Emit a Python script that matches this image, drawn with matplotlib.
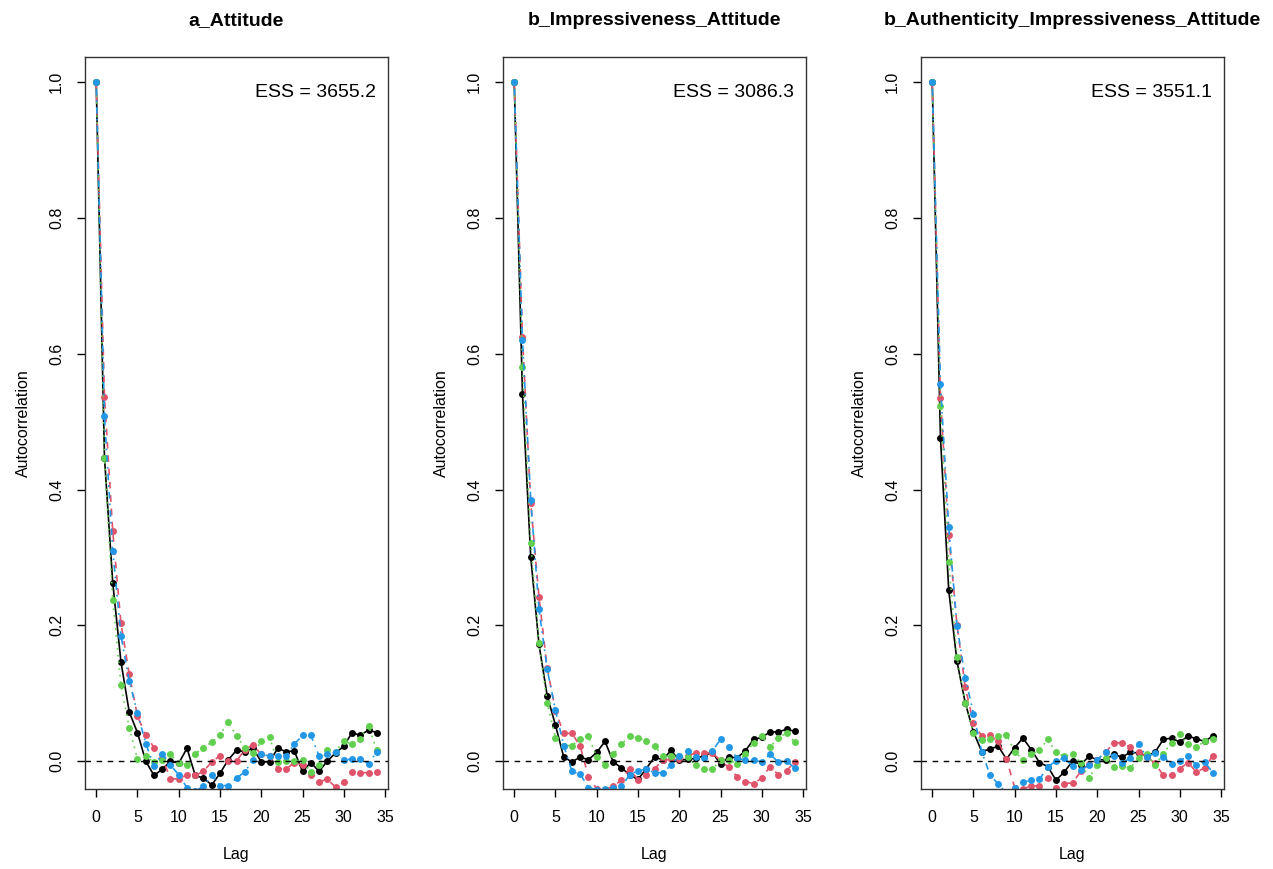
import numpy as np
import matplotlib
matplotlib.use("Agg")
import matplotlib.pyplot as plt

plt.rcParams["font.family"] = ["Liberation Sans", "DejaVu Sans"]

lags = np.arange(35)

titles = ["a_Attitude", "b_Impressiveness_Attitude", "b_Authenticity_Impressiveness_Attitude"]
ess = [3655.2, 3086.3, 3551.1]

# autocorrelation per chain
a_chain1 = [1.0, 0.447, 0.263, 0.146, 0.0725, 0.042, 0.0, -0.021, -0.012, 0.0, -0.003, 0.019,
            -0.021, -0.025, -0.035, -0.018, 0.002, 0.016, 0.014, 0.019, -0.001, -0.001, 0.019,
            0.014, 0.015, -0.015, -0.002, -0.015, 0.0, 0.012, 0.022, 0.042, 0.038, 0.046, 0.042]
a_chain2 = [1.0, 0.537, 0.339, 0.203, 0.128, 0.066, 0.039, 0.020, 0.005, -0.026, -0.026, -0.020,
            -0.021, -0.015, -0.001, 0.008, 0.0, 0.0, 0.017, 0.024, 0.010, 0.007, -0.011,
            -0.012, -0.002, -0.006, -0.021, -0.030, -0.027, -0.038, -0.031, -0.016, -0.017, -0.017, -0.016]
a_chain3 = [1.0, 0.447, 0.238, 0.112, 0.049, 0.003, 0.007, -0.001, 0.002, 0.010, -0.003, -0.005,
            0.011, 0.020, 0.028, 0.039, 0.058, 0.037, 0.020, 0.012, 0.029, 0.035, -0.001,
            0.0, 0.0, 0.001, -0.016, -0.005, 0.016, 0.014, 0.030, 0.025, 0.033, 0.052, 0.016]
a_chain4 = [1.0, 0.508, 0.310, 0.185, 0.118, 0.071, 0.026, -0.007, 0.011, -0.006, -0.020, -0.039,
            -0.044, -0.037, -0.021, -0.036, -0.036, -0.025, -0.016, 0.002, 0.011, 0.007, 0.007,
            0.007, 0.025, 0.038, 0.038, 0.008, 0.010, 0.013, 0.002, 0.003, 0.003, -0.004, 0.014]

bi_chain1 = [1.0, 0.541, 0.301, 0.172, 0.096, 0.053, 0.006, -0.001, 0.006, 0.002, 0.013, 0.029,
             -0.001, -0.010, -0.020, -0.027, -0.011, 0.006, 0.002, 0.016, 0.001, 0.003, 0.004,
             0.008, 0.013, -0.004, 0.006, 0.005, 0.015, 0.032, 0.035, 0.043, 0.043, 0.047, 0.044]
bi_chain2 = [1.0, 0.625, 0.380, 0.242, 0.137, 0.074, 0.041, 0.041, 0.022, -0.023, -0.041, -0.042,
             -0.037, -0.028, -0.011, -0.028, -0.020, -0.011, 0.001, 0.003, 0.003, 0.008, 0.012,
             0.012, 0.012, 0.001, -0.009, -0.023, -0.030, -0.033, -0.025, -0.008, -0.020, -0.014, -0.001]
bi_chain3 = [1.0, 0.580, 0.321, 0.174, 0.086, 0.034, 0.023, 0.023, 0.033, 0.037, 0.006, -0.005,
             0.010, 0.025, 0.037, 0.034, 0.030, 0.023, 0.007, 0.007, 0.007, 0.006, -0.006,
             -0.011, -0.012, 0.001, 0.002, -0.004, 0.011, 0.027, 0.037, 0.021, 0.034, 0.042, 0.028]
bi_chain4 = [1.0, 0.620, 0.385, 0.224, 0.135, 0.075, 0.023, -0.015, -0.019, -0.039, -0.042, -0.041,
             -0.039, -0.037, -0.020, -0.014, -0.012, -0.017, -0.017, -0.006, 0.008, 0.015, 0.006,
             0.004, 0.015, 0.032, 0.021, 0.005, 0.001, 0.001, -0.001, 0.010, -0.001, 0.0, -0.010]

bai_chain1 = [1.0, 0.476, 0.252, 0.147, 0.086, 0.043, 0.014, 0.018, 0.022, 0.003, 0.020, 0.034,
              0.017, -0.002, -0.008, -0.028, -0.016, 0.0, -0.005, 0.007, 0.002, 0.002, 0.010,
              0.006, 0.013, 0.012, 0.008, 0.013, 0.032, 0.034, 0.028, 0.037, 0.033, 0.029, 0.037]
bai_chain2 = [1.0, 0.535, 0.333, 0.201, 0.109, 0.056, 0.037, 0.038, 0.029, 0.003, -0.039, -0.041,
              -0.036, -0.037, -0.025, -0.040, -0.033, -0.032, -0.015, -0.004, 0.002, 0.013, 0.027,
              0.027, 0.021, 0.013, 0.006, -0.003, -0.021, -0.021, -0.011, -0.002, -0.016, -0.010, 0.008]
bai_chain3 = [1.0, 0.523, 0.293, 0.154, 0.086, 0.042, 0.031, 0.032, 0.037, 0.039, 0.014, 0.002,
              0.010, 0.016, 0.032, 0.013, 0.007, 0.010, -0.002, -0.025, -0.005, 0.004, -0.009,
              -0.007, -0.010, 0.005, 0.011, -0.006, 0.011, 0.027, 0.040, 0.025, 0.021, 0.029, 0.033]
bai_chain4 = [1.0, 0.555, 0.345, 0.199, 0.123, 0.070, 0.014, -0.020, -0.034, -0.047, -0.039, -0.031,
              -0.028, -0.027, -0.008, 0.0, 0.005, -0.007, -0.013, -0.006, 0.002, 0.014, 0.007,
              -0.003, 0.005, 0.025, 0.006, 0.012, 0.006, -0.004, 0.0, 0.008, -0.006, -0.001, -0.017]

panels = [
    [a_chain1, a_chain2, a_chain3, a_chain4],
    [bi_chain1, bi_chain2, bi_chain3, bi_chain4],
    [bai_chain1, bai_chain2, bai_chain3, bai_chain4],
]

colors = ["#000000", "#DF536B", "#61D04F", "#2297E6"]
styles = ["-", (0, (4, 4)), (0, (1, 3)), (0, (1, 3, 4, 3))]

fig = plt.figure(figsize=(12.73, 8.69), dpi=100)
lefts = [85 / 1273, 503 / 1273, 921 / 1273]

for i in range(3):
    ax = fig.add_axes([lefts[i], 80 / 869, 303 / 1273, 732 / 869])
    for chain, col, ls in zip(panels[i], colors, styles):
        ax.plot(lags, chain, color=col, linestyle=ls, linewidth=1.2,
                marker="o", markersize=5, markeredgewidth=0)
    ax.axhline(0, color="black", linestyle=(0, (4, 4)), linewidth=1)
    ax.set_xlim(-1.36, 35.36)
    ax.set_ylim(-0.041, 1.037)
    ax.set_xticks(range(0, 36, 5))
    ax.set_yticks([0.0, 0.2, 0.4, 0.6, 0.8, 1.0])
    ax.set_yticklabels(["0.0", "0.2", "0.4", "0.6", "0.8", "1.0"], rotation=90, va="center")
    ax.tick_params(direction="out", length=6, width=1, labelsize=11.5, pad=9)
    for s in ax.spines.values():
        s.set_linewidth(1)
        s.set_color("#333333")
    ax.set_xlabel("Lag", fontsize=11.5, labelpad=16)
    ax.set_ylabel("Autocorrelation", fontsize=11.5, labelpad=13)
    ax.set_title(titles[i], fontsize=14, fontweight="bold", pad=23)
    ax.text(0.96, 0.952, "ESS = %.1f" % ess[i], transform=ax.transAxes,
            ha="right", va="center", fontsize=14)

plt.savefig("out.png", dpi=100)
